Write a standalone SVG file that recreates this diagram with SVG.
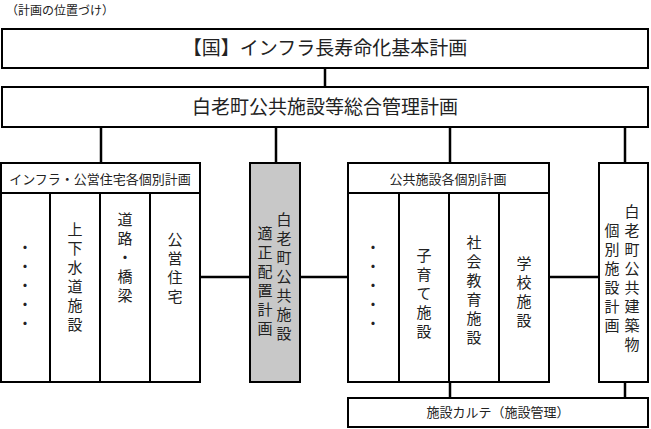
<svg xmlns="http://www.w3.org/2000/svg" width="651" height="429" viewBox="0 0 651 429">
<style>
.b{fill:#fff;stroke:#000;stroke-width:2}
.g{fill:#c8c8c8;stroke:#000;stroke-width:2}
.l{stroke:#000;stroke-width:2.5;fill:none}
text{font-family:"Noto Sans CJK JP","Noto Sans",sans-serif;fill:#222}
.h{font-size:19px;text-anchor:middle}
.m{font-size:13px;text-anchor:middle}
.v{font-size:15px;writing-mode:vertical-rl;letter-spacing:4px}
</style>
<rect width="651" height="429" fill="#fff"/>
<text x="6" y="15" style="font-size:12px">（計画の位置づけ）</text>
<g id="connectors">
<path class="l" d="M325 68V87M101 127V163M276 127V163M450 127V163M625 127V163M200 277H250M300 277H348M549 277H599M450 382V398M625 382V398"/>
</g>
<g id="national"><rect class="b" x="2" y="29" width="646" height="39"/><text class="h" x="325" y="55">【国】インフラ長寿命化基本計画</text></g>
<g id="general"><rect class="b" x="2" y="87" width="646" height="40"/><text class="h" x="325" y="114">白老町公共施設等総合管理計画</text></g>
<g id="infra">
<rect class="b" x="1" y="163" width="199" height="219"/>
<path class="l" style="stroke-width:2" d="M1 193H200M50 193V382M100 193V382M150 193V382"/>
<text class="m" x="100" y="184">インフラ・公営住宅各個別計画</text>
<text class="v" x="25" y="240">・・・・・</text>
<text class="v" x="75" y="222">上下水道施設</text>
<text class="v" x="125" y="212">道路・橋梁</text>
<text class="v" x="175" y="232">公営住宅</text>
</g>
<g id="placement">
<rect class="g" x="250" y="163" width="50" height="219"/>
<text class="v" x="284" y="212">白老町公共施設</text>
<text class="v" x="265" y="226">適正配置計画</text>
</g>
<g id="public">
<rect class="b" x="348" y="163" width="201" height="219"/>
<path class="l" style="stroke-width:2" d="M348 193H549M399 193V382M449 193V382M499 193V382"/>
<text class="m" x="448" y="184">公共施設各個別計画</text>
<text class="v" x="373" y="240">・・・・・</text>
<text class="v" x="424" y="248">子育て施設</text>
<text class="v" x="474" y="235">社会教育施設</text>
<text class="v" x="524" y="256">学校施設</text>
</g>
<g id="building">
<rect class="b" x="599" y="163" width="49" height="219"/>
<text class="v" x="632" y="204">白老町公共建築物</text>
<text class="v" x="612" y="223">個別施設計画</text>
</g>
<g id="karte"><rect class="b" x="348" y="398" width="300" height="29"/><text class="m" x="498" y="417">施設カルテ（施設管理）</text></g>
</svg>
